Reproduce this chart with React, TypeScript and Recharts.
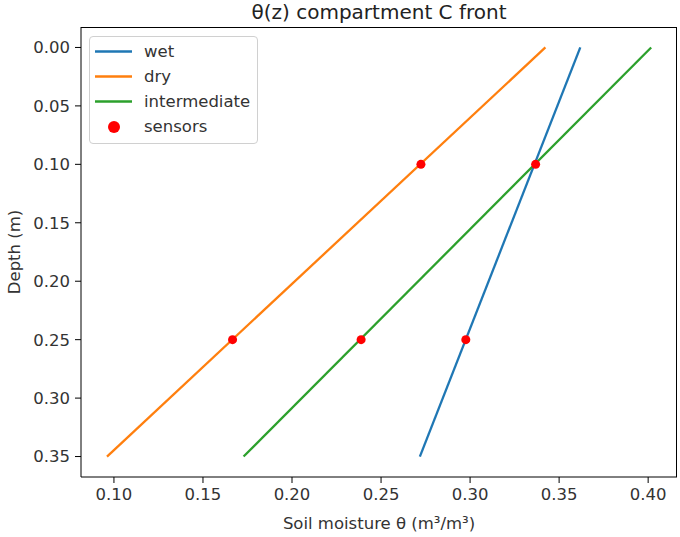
import React from 'react';
import { ScatterChart, Scatter, XAxis, YAxis, ZAxis } from 'recharts';

const depths = [0, 0.35];
const wetTheta = [0.3619, 0.2718];
const dryTheta = [0.3423, 0.0961];
const intermediateTheta = [0.4017, 0.1728];
const sensorTheta = [0.2724, 0.3368, 0.1666, 0.2388, 0.2976];
const sensorDepth = [0.1, 0.1, 0.25, 0.25, 0.25];
const xTicks = [0.1, 0.15, 0.2, 0.25, 0.3, 0.35, 0.4];
const yTicks = [0, 0.05, 0.1, 0.15, 0.2, 0.25, 0.3, 0.35];
const seriesNames = ['wet', 'dry', 'intermediate', 'sensors'];
const seriesColors = ['#1f77b4', '#ff7f0e', '#2ca02c', '#ff0000'];

const toPoints = (thetas: number[], ds: number[]) => thetas.map((t, i) => ({ theta: t, depth: ds[i] }));
const wetData = toPoints(wetTheta, depths);
const dryData = toPoints(dryTheta, depths);
const intermediateData = toPoints(intermediateTheta, depths);
const sensorData = toPoints(sensorTheta, sensorDepth);

const FONT = '"DejaVu Sans", sans-serif';
const TEXT = '#333';
const LW = 2.3;

const NoShape = () => <g />;

const LegendBox = () => (
  <div
    style={{
      position: 'absolute',
      left: 89,
      top: 36,
      width: 167,
      padding: '2px 0 4px 0',
      border: '1px solid #d0d0d0',
      borderRadius: 4,
      background: 'rgba(255,255,255,0.8)',
      fontFamily: FONT,
      fontSize: 16.5,
      color: TEXT,
      zIndex: 2,
    }}
  >
    {seriesNames.map((name, i) => (
      <div key={name} style={{ display: 'flex', alignItems: 'center', height: 25 }}>
        <svg width={37} height={25} style={{ marginLeft: 5, marginRight: 12 }}>
          {i < 3 ? (
            <line x1={0} x2={37} y1={12.5} y2={12.5} stroke={seriesColors[i]} strokeWidth={LW} />
          ) : (
            <circle cx={19} cy={13} r={6} fill={seriesColors[i]} />
          )}
        </svg>
        <span style={{ lineHeight: '25px' }}>{name}</span>
      </div>
    ))}
  </div>
);

export default function App() {
  return (
    <div style={{ position: 'absolute', left: 0, top: 0, width: 680, height: 537, background: '#fff' }}>
      <div
        style={{
          position: 'absolute',
          left: 81,
          width: 596,
          top: 0,
          textAlign: 'center',
          fontFamily: FONT,
          fontSize: 20,
          lineHeight: '24px',
          color: '#222',
        }}
      >
        θ(z) compartment C front
      </div>
      <ScatterChart width={680} height={537} margin={{ top: 27, right: 3, bottom: 0, left: 0 }}>
        <XAxis
          type="number"
          dataKey="theta"
          domain={[0.0815, 0.4162]}
          allowDataOverflow
          ticks={xTicks}
          tickFormatter={(v: number) => v.toFixed(2)}
          height={60}
          stroke="#000"
          tickSize={6}
          tickMargin={5}
          tick={{ fill: TEXT, fontSize: 16.5, fontFamily: FONT }}
          label={{
            value: 'Soil moisture θ (m³/m³)',
            position: 'insideBottom',
            offset: 8,
            fill: TEXT,
            fontSize: 16.5,
            fontFamily: FONT,
          }}
        />
        <YAxis
          type="number"
          dataKey="depth"
          domain={[-0.0175, 0.3675]}
          allowDataOverflow
          reversed
          ticks={yTicks}
          tickFormatter={(v: number) => v.toFixed(2)}
          width={81}
          stroke="#000"
          tickSize={6}
          tickMargin={5}
          tick={{ fill: TEXT, fontSize: 16.5, fontFamily: FONT }}
          label={{
            content: (props: any) => {
              const vb = props.viewBox || { y: 27, height: 450 };
              const cy = vb.y + vb.height / 2;
              return (
                <text
                  x={14}
                  y={cy}
                  transform={`rotate(-90, 14, ${cy})`}
                  textAnchor="middle"
                  dominantBaseline="central"
                  fill={TEXT}
                  fontSize={16.5}
                  fontFamily={FONT}
                >
                  Depth (m)
                </text>
              );
            },
          }}
        />
        <ZAxis range={[113, 113]} />
        <Scatter
          name="wet"
          data={wetData}
          line={{ stroke: seriesColors[0], strokeWidth: LW }}
          shape={NoShape}
          isAnimationActive={false}
        />
        <Scatter
          name="dry"
          data={dryData}
          line={{ stroke: seriesColors[1], strokeWidth: LW }}
          shape={NoShape}
          isAnimationActive={false}
        />
        <Scatter
          name="intermediate"
          data={intermediateData}
          line={{ stroke: seriesColors[2], strokeWidth: LW }}
          shape={NoShape}
          isAnimationActive={false}
        />
        <Scatter name="sensors" data={sensorData} fill={seriesColors[3]} shape="circle" isAnimationActive={false} />
      </ScatterChart>
      <div
        style={{
          position: 'absolute',
          left: 81,
          top: 26.5,
          width: 596,
          height: 450,
          borderTop: '1px solid #000',
          borderRight: '1px solid #000',
          boxSizing: 'border-box',
          pointerEvents: 'none',
        }}
      />
      <LegendBox />
    </div>
  );
}
